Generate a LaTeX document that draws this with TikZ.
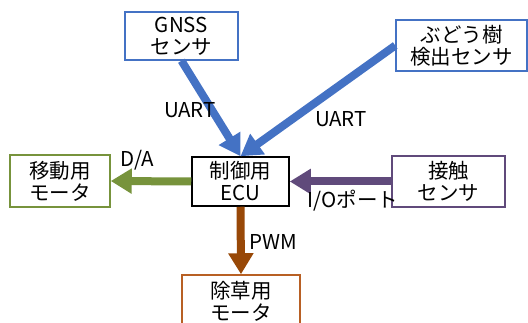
\documentclass[tikz,border=0pt]{standalone}
\usepackage{fontspec}
\setmainfont{Noto Sans CJK JP}
\usepackage{xcolor}
\usepackage{tikz}
\usetikzlibrary{positioning,arrows.meta}

\definecolor{sensblue}{RGB}{68,114,196}
\definecolor{motgreen}{RGB}{119,147,60}
\definecolor{touchpurple}{RGB}{96,74,123}
\definecolor{weedbrown}{RGB}{152,72,7}
\definecolor{weedbox}{RGB}{184,96,36}

\begin{document}
\begin{tikzpicture}[x=1pt, y=-1pt,
  font=\fontsize{20.5}{22}\selectfont,
  box/.style={draw, line width=1.5pt, align=center, inner sep=1pt},
  arr/.style={-{Triangle[width=24pt,length=21pt]}, line width=8pt},
  lbl/.style={inner sep=0pt}]
  \useasboundingbox (0,0) rectangle (528,323);
  \node[box, draw=sensblue, minimum width=113pt, minimum height=48pt] (gnss) at (181.5,36) {GNSS\\センサ};
  \node[box, draw=sensblue, minimum width=131pt, minimum height=51pt] (grape) at (461.5,45.5) {ぶどう樹\\検出センサ};
  \node[box, draw=black, minimum width=97pt, minimum height=49pt] (ecu) at (240.5,181.5) {制御用\\ECU};
  \node[box, draw=motgreen, minimum width=100pt, minimum height=52pt] (move) at (60,181) {移動用\\モータ};
  \node[box, draw=touchpurple, minimum width=113pt, minimum height=51pt] (touch) at (448.5,181.5) {接触\\センサ};
  \node[box, draw=weedbox, minimum width=118pt, minimum height=52pt] (weed) at (241,301) {除草用\\モータ};
  % connectors
  \draw[arr, sensblue] (gnss.south) -- (ecu.north);
  \draw[arr, sensblue] (grape.west) -- (ecu.north);
  \draw[arr, motgreen] (ecu.west) -- (move.east);
  \draw[arr, touchpurple] (touch.west) -- (ecu.east);
  \draw[arr, weedbrown] (ecu.south) -- (weed.north);
  % labels
  \node[lbl] (uartg) at (190,110) {UART};
  \node[lbl] (uartv) at (341,119) {UART};
  \node[lbl] (da) at (137,160) {D/A};
  \node[lbl] (io) at (353,201) {I/Oポート};
  \node[lbl] (pwm) at (273,242) {PWM};
\end{tikzpicture}
\end{document}
